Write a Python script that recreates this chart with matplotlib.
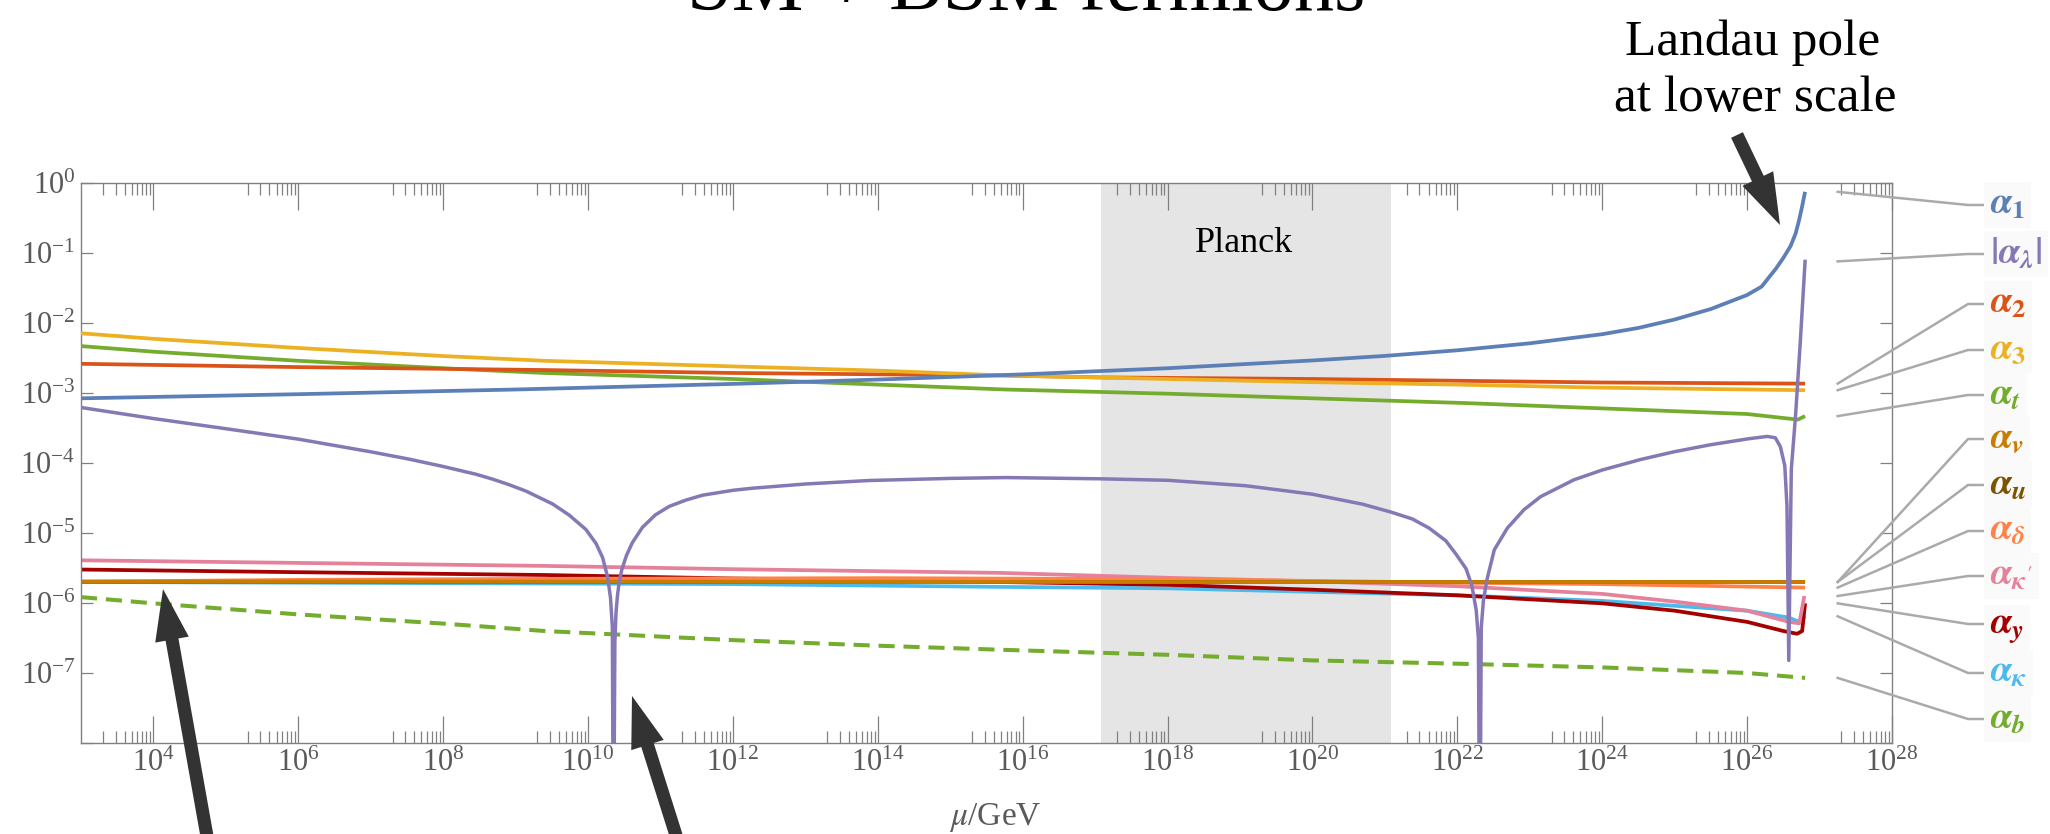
import numpy as np
import matplotlib
matplotlib.use("Agg")
import matplotlib.pyplot as plt
from matplotlib.ticker import FixedLocator, NullLocator, FuncFormatter
from matplotlib.lines import Line2D
from matplotlib.patches import FancyArrowPatch
from matplotlib.transforms import IdentityTransform

plt.rcParams["font.family"] = ["Liberation Serif", "DejaVu Serif"]
plt.rcParams["mathtext.fontset"] = "stix"
plt.rcParams["mathtext.it"] = "STIXGeneral:italic:bold"
plt.rcParams["mathtext.rm"] = "STIXGeneral:bold"
plt.rcParams["mathtext.bf"] = "STIXGeneral:bold"

# ---------------- data (log10 mu / GeV, log10 alpha) ----------------
mu_a1 = [3, 6, 9, 12, 14, 16, 18, 20, 21, 22, 23, 24, 24.5, 25, 25.5, 26, 26.2, 26.4, 26.5, 26.6,
         26.67, 26.72, 26.76, 26.8]
a1 = [-3.076, -3.017, -2.95, -2.87, -2.808, -2.734, -2.646, -2.535, -2.47, -2.39, -2.29, -2.16,
      -2.07, -1.95, -1.80, -1.60, -1.48, -1.22, -1.07, -0.90, -0.72, -0.52, -0.33, -0.126]

mu_a2 = [3, 6, 9.4, 12, 15.76, 17.08, 20, 22, 24, 26.8]
a2 = [-2.583, -2.63, -2.672, -2.714, -2.75, -2.777, -2.80, -2.825, -2.85, -2.866]

mu_a3 = [3, 4, 6, 8, 9.4, 12, 14, 15.76, 18, 20, 22, 24, 26.8]
a3 = [-2.147, -2.226, -2.357, -2.472, -2.54, -2.62, -2.68, -2.75, -2.80, -2.845, -2.88, -2.924, -2.96]

mu_at = [3, 4, 6, 8, 9.4, 12, 14, 15.76, 18, 20, 22.12, 24, 26, 26.7, 26.8]
at = [-2.33, -2.41, -2.54, -2.646, -2.714, -2.80, -2.88, -2.95, -3.01, -3.076, -3.144, -3.22, -3.30, -3.38, -3.33]

mu_al = [3, 4, 5, 6, 7, 7.53, 8, 8.45, 8.68, 8.91, 9.14, 9.28, 9.51, 9.74, 9.97, 10.11, 10.2, 10.27,
         10.31, 10.335, 10.35, 10.37, 10.385, 10.405, 10.43, 10.464, 10.53, 10.61, 10.75, 10.93,
         11.12, 11.35, 11.58, 12.0, 12.27, 13.0, 13.88, 15.0, 15.76, 17.08, 18.0, 19.08, 20.0, 20.69,
         21.08, 21.38, 21.61, 21.84, 21.98, 22.12, 22.2, 22.26, 22.29, 22.31, 22.33, 22.36, 22.41,
         22.51, 22.69, 22.92, 23.15, 23.61, 24.0, 24.53, 24.99, 25.49, 26.01, 26.28, 26.39, 26.46,
         26.52, 26.55, 26.575, 26.61, 26.67, 26.735, 26.8]
al = [-3.207, -3.365, -3.51, -3.659, -3.84, -3.945, -4.05, -4.16, -4.23, -4.31, -4.40, -4.47,
      -4.585, -4.745, -4.95, -5.15, -5.35, -5.63, -5.93, -6.35, -10.0, -6.55, -6.15, -5.90, -5.70,
      -5.53, -5.32, -5.14, -4.92, -4.74, -4.62, -4.53, -4.46, -4.39, -4.36, -4.30, -4.25, -4.22,
      -4.208, -4.226, -4.247, -4.325, -4.446, -4.588, -4.70, -4.80, -4.93, -5.11, -5.30, -5.51,
      -5.75, -6.10, -6.50, -10.0, -6.35, -5.96, -5.66, -5.24, -4.93, -4.667, -4.48, -4.24, -4.10,
      -3.95, -3.84, -3.74, -3.655, -3.62, -3.64, -3.77, -4.04, -4.61, -6.82, -4.09, -3.30, -2.25,
      -1.12]

mu_av = [3, 10, 18, 26.8]
av = [-5.695, -5.695, -5.70, -5.70]

mu_au = [3, 26.8]
au = [-5.697, -5.70]

mu_ad = [3, 6, 9.4, 14, 18, 22, 24, 26.8]
ad = [-5.695, -5.67, -5.655, -5.645, -5.66, -5.71, -5.73, -5.78]

mu_akp = [3, 9.4, 12, 15.7, 18, 20, 22, 24, 25, 26, 26.58, 26.72, 26.79]
akp = [-5.39, -5.47, -5.517, -5.57, -5.64, -5.69, -5.76, -5.87, -5.98, -6.11, -6.27, -6.29, -5.90]

mu_ay = [3, 6, 9.4, 12, 15.7, 18, 20, 22, 24, 25, 26, 26.5, 26.69, 26.76, 26.8]
ay = [-5.522, -5.56, -5.60, -5.65, -5.70, -5.74, -5.81, -5.89, -6.005, -6.11, -6.27, -6.40, -6.44, -6.40, -6.005]

mu_ak = [3, 12, 15.7, 18, 20, 22, 24, 26, 26.58, 26.72, 26.8]
ak = [-5.70, -5.73, -5.77, -5.79, -5.84, -5.89, -5.97, -6.11, -6.21, -6.27, -6.19]

mu_ab = [3, 4, 6, 8, 9.4, 12, 14, 15.76, 18, 20, 22.12, 24, 26, 26.8]
ab = [-5.916, -6.005, -6.163, -6.294, -6.40, -6.53, -6.61, -6.67, -6.74, -6.82, -6.87, -6.92, -7.0, -7.07]

planck_band = [1.22e17, 1.22e21]

x_tick_exp = list(range(4, 29, 2))
y_tick_exp = list(range(-8, 1))

labels = [r"$\alpha_{1}$", r"$|\alpha_{\lambda}|$", r"$\alpha_{2}$", r"$\alpha_{3}$", r"$\alpha_{t}$",
          r"$\alpha_{v}$", r"$\alpha_{u}$", r"$\alpha_{\delta}$", r"$\alpha_{\kappa'}$", r"$\alpha_{y}$",
          r"$\alpha_{\kappa}$", r"$\alpha_{b}$"]

# ---------------- colours ----------------
C = {
    "a1": "#5b7fb6", "al": "#8678b4", "a2": "#da5419", "a3": "#ecb123", "at": "#74ac2e",
    "av": "#c97d00", "au": "#7d5200", "ad": "#ff8348", "akp": "#e4829b", "ay": "#a40000",
    "ak": "#4cbbec", "ab": "#74ac2e",
}

W, H = 2050, 834
fig = plt.figure(figsize=(W / 100, H / 100), dpi=100)
ax = fig.add_axes([81 / W, 91 / H, 1811 / W, 560 / H])
ax.set_xscale("log")
ax.set_yscale("log")
ax.set_xlim(1e3, 1e28)
ax.set_ylim(1e-8, 1)

ax.axvspan(planck_band[0], planck_band[1], color="#e5e5e5", lw=0, zorder=0)
ax.text(10 ** 19.05, 10 ** -0.986, "Planck", ha="center", va="baseline", fontsize=26, color="black")

LW = 2.7

def P(mu, vals, key, ls="-", z=2):
    ax.plot(10 ** np.array(mu, float), 10 ** np.array(vals, float), color=C[key], lw=LW, ls=ls,
            zorder=z, solid_capstyle="butt", dash_capstyle="butt", solid_joinstyle="round")

series = [
    (mu_a1, a1, "a1"), (mu_al, al, "al"), (mu_a2, a2, "a2"), (mu_a3, a3, "a3"), (mu_at, at, "at"),
    (mu_av, av, "av"), (mu_au, au, "au"), (mu_ad, ad, "ad"), (mu_akp, akp, "akp"), (mu_ay, ay, "ay"),
    (mu_ak, ak, "ak"), (mu_ab, ab, "ab"),
]

P(mu_ak, ak, "ak", z=2)
P(mu_ay, ay, "ay", z=2.1)
P(mu_akp, akp, "akp", z=2.2)
P(mu_ad, ad, "ad", z=2.3)
P(mu_au, au, "au", z=2.4)
P(mu_av, av, "av", z=2.5)
ax.plot(10 ** np.array(mu_ab, float), 10 ** np.array(ab, float), color=C["ab"], lw=LW + 0.2,
        ls=(0, (4, 2.2)), zorder=2.6)
P(mu_at, at, "at", z=2.7)
P(mu_a2, a2, "a2", z=2.8)
P(mu_a3, a3, "a3", z=2.9)
P(mu_a1, a1, "a1", z=3.0)
ax.plot(10 ** np.array(mu_al, float), 10 ** np.array(al, float), color=C["al"], lw=LW - 0.2,
        zorder=3.1, solid_joinstyle="round")

# ---------------- axes styling ----------------
gray = "#808080"
for s in ax.spines.values():
    s.set_color(gray)
    s.set_linewidth(1.0)

def fmt(v, p):
    e = int(round(np.log10(float(v))))
    if e == -8:
        return ""
    return r"$\mathregular{10^{%d}}$" % e

ax.xaxis.set_major_locator(FixedLocator([10.0 ** k for k in x_tick_exp]))
ax.xaxis.set_minor_locator(FixedLocator([m * 10.0 ** k for k in range(3, 28, 2) for m in range(2, 10)]))
ax.yaxis.set_major_locator(FixedLocator([10.0 ** k for k in y_tick_exp]))
ax.yaxis.set_minor_locator(NullLocator())
ax.xaxis.set_major_formatter(FuncFormatter(fmt))
ax.yaxis.set_major_formatter(FuncFormatter(fmt))
ax.tick_params(axis="x", which="major", direction="in", length=19.5, width=0.9, color=gray,
               top=True, bottom=True, labelsize=22, labelcolor="#5a5a5a", pad=4)
ax.tick_params(axis="x", which="minor", direction="in", length=8.6, width=0.9, color=gray,
               top=True, bottom=True)
ax.tick_params(axis="y", which="major", direction="in", length=8.6, width=0.9, color=gray,
               left=True, right=True, labelsize=22, labelcolor="#5a5a5a", pad=4)

fig.text(995 / W, (H - 825) / H, r"$\mu$/GeV", ha="center", va="baseline", fontsize=24,
         color="#5a5a5a", math_fontfamily="stix")

# ---------------- title and annotations ----------------
fig.text(1026 / W, (H - 10) / H, "SM + BSM fermions", ha="center", va="baseline", fontsize=58)
fig.text(1753 / W, (H - 55) / H, "Landau pole", ha="center", va="baseline", fontsize=37)
fig.text(1755 / W, (H - 111) / H, "at lower scale", ha="center", va="baseline", fontsize=37)

arrow_style = "simple,head_length=3.7,head_width=2.45,tail_width=0.94"
for tail, tip in [((1737, 135), (1780, 225)), ((213, 870), (163, 589)), ((687, 870), (632, 696))]:
    fig.add_artist(FancyArrowPatch((tail[0], H - tail[1]), (tip[0], H - tip[1]),
                                   transform=IdentityTransform(), arrowstyle=arrow_style,
                                   mutation_scale=10, color="#333333", lw=0,
                                   shrinkA=0, shrinkB=0))

# ---------------- labels with leader lines ----------------
label_y = [205, 254, 304, 350, 395, 439, 485, 531, 576, 624, 673, 719]
x_start = 10 ** 27.25
for (mu, vals, key), lab, ly in zip(series, labels, label_y):
    sx, sy = ax.transData.transform((x_start, 10 ** vals[-1]))
    fig.add_artist(Line2D([sx, 1968, 1984], [sy, H - ly, H - ly], transform=IdentityTransform(),
                          color="#aaaaaa", lw=1.8, solid_joinstyle="round"))
    fig.text(1990 / W, (H - ly - 9) / H, lab, ha="left", va="baseline", fontsize=27, color=C[key],
             math_fontfamily="custom",
             bbox=dict(boxstyle="square,pad=0.15", fc="#fafafa", ec="none"))

fig.savefig("out.png", dpi=100)
